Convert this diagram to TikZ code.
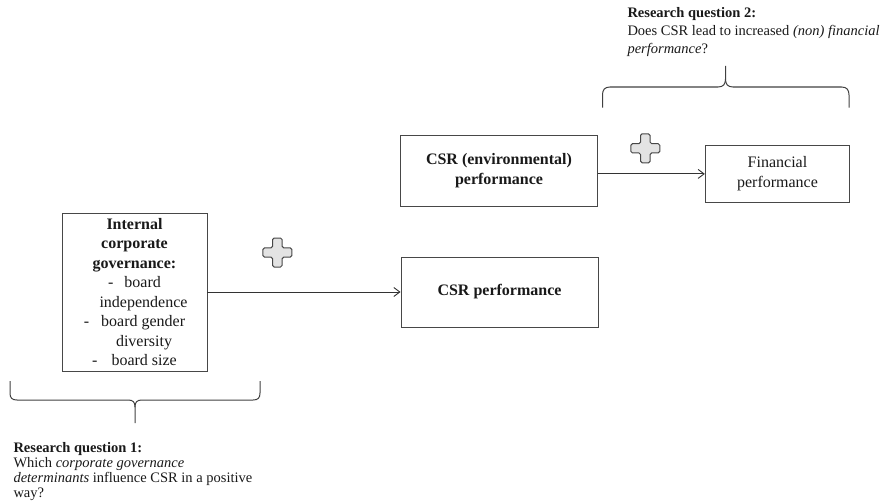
\documentclass[tikz,border=0pt]{standalone}
\usepackage{fontspec}
\setmainfont{Liberation Serif}
\usetikzlibrary{arrows.meta}
\tikzset{
  boxnode/.style={draw=black!72, line width=0.9pt, inner sep=0pt, align=center,
    font=\fontsize{16}{19.5}\selectfont, text=black!90},
  link/.style={draw=black!80, line width=0.9pt, -{Straight Barb[length=6pt,width=9pt,line width=0.9pt]}},
  bracepath/.style={draw=black!75, line width=1pt},
  question/.style={inner sep=0pt, align=left, font=\fontsize{14.5}{15}\selectfont, text=black!90},
  plusshape/.style={draw=black!72, line width=1pt, fill=black!11, rounded corners=1.6pt},
  plussign/.pic={
    \path[plusshape] (-4.8,-14.5) -- (4.8,-14.5) -- (4.8,-4.6) -- (14.5,-4.6) -- (14.5,4.6)
      -- (4.8,4.6) -- (4.8,14.5) -- (-4.8,14.5) -- (-4.8,4.6) -- (-14.5,4.6)
      -- (-14.5,-4.6) -- (-4.8,-4.6) -- cycle;
  }
}
\begin{document}
\begin{tikzpicture}[x=1pt,y=-1pt]
\useasboundingbox (0,0) rectangle (889,503);

% boxes
\node[boxnode, minimum width=145pt, minimum height=158pt] (icg) at (134.5,292)
  {\textbf{Internal}\\ \textbf{corporate}\\ \textbf{governance:}\\
   -\hspace{11pt}board\\ \hspace*{18pt}independence\\ -\hspace{12pt}board gender\\
   \hspace*{19pt}diversity\\ -\hspace{14pt}board size};
\node[boxnode, minimum width=197pt, minimum height=70pt] (csrperf) at (499.5,292)
  {\textbf{CSR performance}};
\node[boxnode, minimum width=196.6pt, minimum height=70.3pt] (csrenv) at (499,170.9)
  {\textbf{CSR (environmental)}\\ \textbf{performance}};
\node[boxnode, minimum width=144.4pt, minimum height=57.7pt] (fin) at (777.5,173.9)
  {Financial\\ performance};

% connectors
\draw[link] (icg.east) -- (csrperf.west);
\draw[link] (csrenv.east |- fin.west) -- (fin.west);

% plus signs
\pic at (277.3,252.5) {plussign};
\pic at (645.3,148.3) {plussign};

% braces
\coordinate (b1tip) at (135,423);
\path[bracepath] (10,381) -- (10,393) .. controls (10,398) and (12,400) .. (17,400)
  -- (128,400) .. controls (133,400) and (135,402) .. (135,407) -- (b1tip);
\path[bracepath] (260,381) -- (260,393) .. controls (260,398) and (258,400) .. (253,400)
  -- (142,400) .. controls (137,400) and (135,402) .. (135,407);
\coordinate (b2tip) at (725.5,66);
\path[bracepath] (602.5,107.5) -- (602.5,95) .. controls (602.5,90) and (604.5,87) .. (610,87)
  -- (718,87) .. controls (723.5,87) and (725.5,84) .. (725.5,79) -- (b2tip);
\path[bracepath] (849,107.5) -- (849,95) .. controls (849,90) and (847,87) .. (841.5,87)
  -- (733,87) .. controls (727.5,87) and (725.5,84) .. (725.5,79);

% questions
\node[question, anchor=base west] (q1) at (13.3,497)
  {\textbf{Research question 1:}\\ Which \textit{corporate governance}\\
   \textit{determinants} influence CSR in a positive\\ way?};
\node[question, font=\fontsize{14.5}{17.7}\selectfont, anchor=base west] (q2) at (627.3,53.3)
  {\textbf{Research question 2:}\\ Does CSR lead to increased \textit{(non) financial}\\
   \textit{performance}?};
\end{tikzpicture}
\end{document}
